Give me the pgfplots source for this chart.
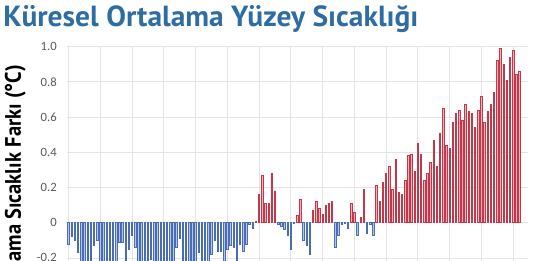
\documentclass[border=0pt]{standalone}
\usepackage{graphicx}
\usepackage{pgfplots}
\pgfplotsset{compat=1.18}
\usepackage{fontspec}
\setmainfont{Carlito}
\newfontfamily\titlefont{PT Sans}
\definecolor{titleblue}{HTML}{2E6CA4}
\definecolor{tickgray}{HTML}{595959}
\definecolor{gridgray}{HTML}{E4E4E4}
\definecolor{redline}{HTML}{C0394A}
\definecolor{redfill}{HTML}{F4B0B8}
\definecolor{blueline}{HTML}{4A6CB0}
\definecolor{bluefill}{HTML}{B3C7EA}
\begin{document}
\begin{tikzpicture}
\clip (0pt,0pt) rectangle (399.75pt,-195.75pt);
\path[use as bounding box] (0pt,0pt) rectangle (399.75pt,-195.75pt);
\node[anchor=base west, inner sep=0pt, text=titleblue] at (2.25pt,-19.875pt)
  {\resizebox{311.25pt}{15.75pt}{\titlefont\bfseries Küresel Ortalama Yüzey Sıcaklığı}};
\begin{axis}[
  at={(50.25pt,-34.875pt)}, anchor=north west,
  scale only axis, width=345.75pt, height=211.4pt,
  xmin=1879.53, xmax=2024.7, ymin=-0.6, ymax=1.0,
  xtick={1880,1890,1900,1910,1920,1930,1940,1950,1960,1970,1980,1990,2000,2010,2020},
  xticklabel=\empty,
  ytick={-0.6,-0.4,-0.2,0,0.2,0.4,0.6,0.8,1.0},
  yticklabels={-0.6,-0.4,-0.2,0,0.2,0.4,0.6,0.8,1.0},
  yticklabel style={font=\fontsize{9.5}{10}\selectfont, text=tickgray, inner sep=0pt, anchor=east, xshift=-7.5pt},
  grid=major, major grid style={gridgray, line width=0.5pt},
  axis line style={draw=none}, tick style={draw=none},
  ylabel={\resizebox{181pt}{12pt}{\titlefont\bfseries Ortalama Sıcaklık Farkı (°C)}},
  ylabel style={at={(axis description cs:-0.0998,0.506)}, anchor=base, inner sep=0pt},
  ybar, bar width=1.1pt,
]
\addplot[bar shift=0pt, draw=blueline, fill=bluefill, line width=0.45pt] coordinates {
(1880,-0.12) (1881,-0.08) (1882,-0.10) (1883,-0.17) (1884,-0.26) (1885,-0.25) (1886,-0.24) (1887,-0.28) (1888,-0.13) (1889,-0.10)
(1890,-0.33) (1891,-0.24) (1892,-0.29) (1893,-0.31) (1894,-0.29) (1895,-0.23) (1896,-0.11) (1897,-0.11) (1898,-0.26) (1899,-0.15)
(1900,-0.07) (1901,-0.14) (1902,-0.25) (1903,-0.35) (1904,-0.44) (1905,-0.27) (1906,-0.21) (1907,-0.38) (1908,-0.42) (1909,-0.45)
(1910,-0.41) (1911,-0.43) (1912,-0.33) (1913,-0.33) (1914,-0.14) (1915,-0.09) (1916,-0.30) (1917,-0.37) (1918,-0.27) (1919,-0.25)
(1920,-0.24) (1921,-0.17) (1922,-0.25) (1923,-0.23) (1924,-0.24) (1925,-0.18) (1926,-0.10) (1927,-0.16) (1928,-0.16) (1929,-0.30)
(1930,-0.15) (1931,-0.13) (1932,-0.14) (1933,-0.25) (1934,-0.12) (1935,-0.16) (1936,-0.12) (1937,-0.01) (1938,-0.03)
(1946,-0.01) (1947,-0.02) (1948,-0.04) (1949,-0.07) (1950,-0.15) (1951,-0.005)
(1954,-0.10) (1955,-0.13) (1956,-0.18)
(1964,-0.14) (1965,-0.07) (1966,-0.01) (1967,-0.005) (1968,-0.03)
(1971,-0.07) (1974,-0.06) (1975,-0.01) (1976,-0.07)
};
\addplot[bar shift=0pt, draw=redline, fill=redfill, line width=0.45pt] coordinates {
(1939,0.01) (1940,0.16) (1941,0.27) (1942,0.11) (1943,0.11) (1944,0.28) (1945,0.18)
(1952,0.04) (1953,0.13)
(1957,0.07) (1958,0.12) (1959,0.08) (1960,0.05) (1961,0.10) (1962,0.11) (1963,0.12)
(1969,0.11) (1970,0.06) (1972,0.03) (1973,0.19)
(1977,0.21) (1978,0.12) (1979,0.23)
(1980,0.28) (1981,0.32) (1982,0.19) (1983,0.36) (1984,0.17) (1985,0.16) (1986,0.24) (1987,0.38) (1988,0.39) (1989,0.29)
(1990,0.45) (1991,0.39) (1992,0.24) (1993,0.28) (1994,0.34) (1995,0.47) (1996,0.32) (1997,0.51) (1998,0.65) (1999,0.44)
(2000,0.42) (2001,0.57) (2002,0.62) (2003,0.64) (2004,0.58) (2005,0.67) (2006,0.63) (2007,0.62) (2008,0.54) (2009,0.64)
(2010,0.72) (2011,0.57) (2012,0.63) (2013,0.67) (2014,0.74) (2015,0.92) (2016,0.99) (2017,0.90) (2018,0.81) (2019,0.94)
(2020,0.98) (2021,0.84) (2022,0.86)
};
\end{axis}
\end{tikzpicture}
\end{document}
